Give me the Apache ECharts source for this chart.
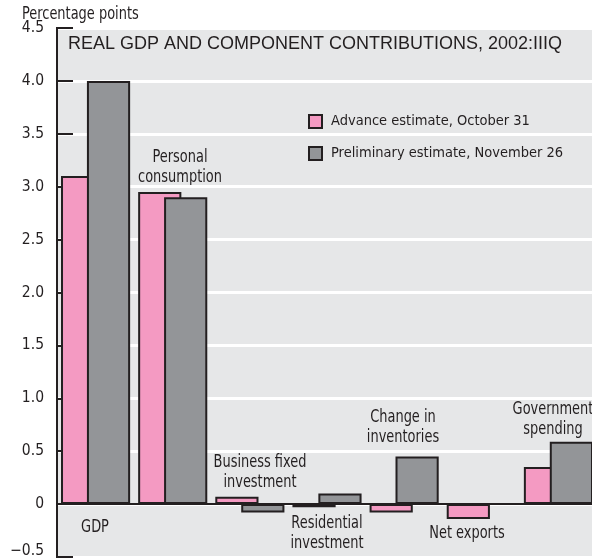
<!DOCTYPE html>
<html>
<head>
<meta charset="utf-8">
<script src="https://cdn.jsdelivr.net/npm/echarts@6/dist/echarts.min.js"></script>
<style>
  html, body { margin: 0; padding: 0; background: #fff; }
  #chart { width: 592px; height: 559px; }
</style>
</head>
<body>
<div id="chart"></div>
<script>
// values (percentage points)
const categories = ['GDP', 'Personal consumption', 'Business fixed investment', 'Residential investment',
  'Change in inventories', 'Net exports', 'Government spending']
const advance = [3.1, 2.95, 0.07, -0.03, -0.08, -0.14, 0.35]
const preliminary = [4.0, 2.9, -0.08, 0.1, 0.45, 0, 0.59]
const seriesNames = ['Advance estimate, October 31', 'Preliminary estimate, November 26']

const narrow = '"Liberation Sans Narrow", "DejaVu Sans Condensed", sans-serif'
const ink = '#231f20'

// category annotations (two-line ones split by \n)
const notes = [
  { text: 'GDP', x: 95, y: 527 },
  { text: 'Personal\nconsumption', x: 180, y: 167 },
  { text: 'Business fixed\ninvestment', x: 260, y: 472 },
  { text: 'Residential\ninvestment', x: 327, y: 533 },
  { text: 'Change in\ninventories', x: 403, y: 427 },
  { text: 'Net exports', x: 467, y: 533 },
  { text: 'Government\nspending', x: 553, y: 419 }
]

const chart = echarts.init(document.getElementById('chart'))

function yLabel(v) {
  if (v === 0) return '0'
  // bottom label sits a bit higher so it stays inside the picture
  if (v < 0) return '{lo|\u2212' + Math.abs(v).toFixed(1) + '}'
  return v.toFixed(1)
}

chart.setOption({
  animation: false,
  grid: {
    left: 57,
    width: 540,
    top: 28,
    bottom: 2,
    outerBoundsMode: 'none',
    show: true,
    backgroundColor: '#e6e7e8',
    borderColor: ink,
    borderWidth: 2
  },
  legend: {
    orient: 'vertical',
    left: 308,
    top: 114,
    padding: 0,
    itemWidth: 13,
    itemHeight: 13,
    itemGap: 17,
    icon: 'rect',
    textStyle: { fontFamily: narrow, fontSize: 14.5, color: ink, padding: [0, 0, 0, 4] },
    data: seriesNames
  },
  xAxis: {
    type: 'category',
    data: categories,
    axisLine: { onZero: true, lineStyle: { color: ink, width: 2 } },
    axisTick: { show: false },
    axisLabel: { show: false }
  },
  yAxis: {
    type: 'value',
    min: -0.5,
    max: 4.5,
    interval: 0.5,
    axisLine: { show: true, lineStyle: { color: ink, width: 2 } },
    axisTick: { show: true, inside: true, length: 16, lineStyle: { color: ink, width: 2 } },
    axisLabel: {
      formatter: yLabel,
      margin: 13,
      fontFamily: narrow,
      fontSize: 15.5,
      color: ink,
      rich: {
        lo: { fontFamily: narrow, fontSize: 15.5, color: ink, padding: [0, 0, 12, 0] }
      }
    },
    splitLine: { show: true, lineStyle: { color: '#ffffff', width: 3 } }
  },
  series: [
    {
      name: seriesNames[0],
      type: 'bar',
      data: advance,
      barWidth: '56%',
      barGap: '-40%',
      itemStyle: { color: '#f49ac2', borderColor: ink, borderWidth: 2 }
    },
    {
      name: seriesNames[1],
      type: 'bar',
      data: preliminary,
      barWidth: '56%',
      barGap: '-40%',
      itemStyle: { color: '#939598', borderColor: ink, borderWidth: 2 }
    }
  ],
  graphic: [
    {
      type: 'text', x: 22, y: 14, scaleX: 0.8,
      style: { text: 'Percentage points', fontFamily: narrow, fontSize: 18, fill: ink, verticalAlign: 'middle' }
    },
    {
      type: 'text', x: 68, y: 44,
      style: { text: 'REAL GDP AND COMPONENT CONTRIBUTIONS, 2002:IIIQ', fontFamily: '"Liberation Sans", sans-serif', fontSize: 18, fill: ink, verticalAlign: 'middle' }
    }
  ].concat(notes.map(n => ({
    type: 'text',
    x: n.x,
    y: n.y,
    scaleX: 0.8,
    style: {
      text: n.text,
      fontFamily: narrow,
      fontSize: 18,
      lineHeight: 20,
      fill: ink,
      align: 'center',
      verticalAlign: 'middle'
    }
  })))
})
</script>
</body>
</html>
